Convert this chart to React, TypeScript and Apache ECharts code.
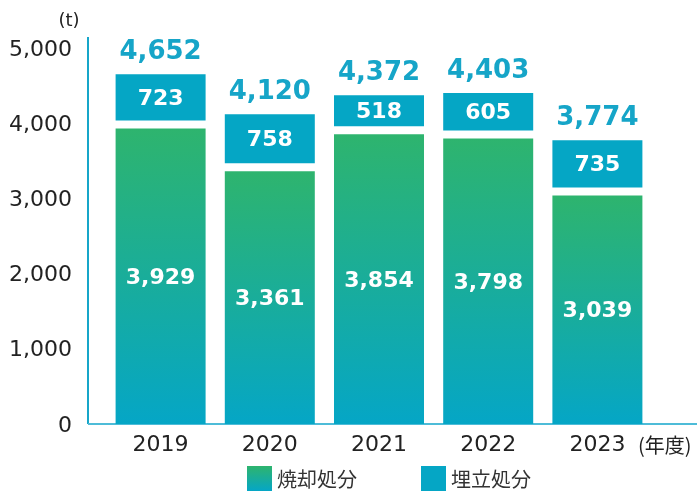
import React, { useEffect, useRef } from "react";
import * as echarts from "echarts";

const years = ["2019", "2020", "2021", "2022", "2023"];
const incinerated = [3929, 3361, 3854, 3798, 3039];
const landfilled = [723, 758, 518, 605, 735];
const totals = [4652, 4120, 4372, 4403, 3774];
const seriesNames = ["焼却処分", "埋立処分"];
const unitLabel = "(t)";
const yearUnit = "(年度)";

const BLUE = "#05a6c5";
const TOTAL_COLOR = "#16a5c8";
const NUM_FONT = '"DejaVu Sans", sans-serif';
const CJK_FONT = '"Noto Sans CJK JP", sans-serif';

const fmt = (v: number) => Number(v).toLocaleString("en-US");

export default function App() {
  const ref = useRef<HTMLDivElement>(null);
  useEffect(() => {
    if (!ref.current) return;
    const chart = echarts.init(ref.current, null, { renderer: "svg" });
    const greenGrad = new echarts.graphic.LinearGradient(0, 0, 0, 1, [
      { offset: 0, color: "#2eb46e" },
      { offset: 1, color: "#05a6c6" },
    ]);
    chart.setOption({
      animation: false,
      grid: { left: 106, right: 48, top: 48, bottom: 72 },
      xAxis: {
        type: "category",
        data: years,
        axisLine: { show: false },
        axisTick: { show: false },
        axisLabel: { fontSize: 22, color: "#222", fontFamily: NUM_FONT, margin: 8 },
      },
      yAxis: {
        type: "value",
        min: 0,
        max: 5000,
        interval: 1000,
        offset: 18,
        axisLine: { show: false },
        axisTick: { show: false },
        splitLine: { show: false },
        axisLabel: {
          fontSize: 22,
          color: "#222",
          fontFamily: NUM_FONT,
          margin: 16,
          padding: [16, 0, 0, 0],
          formatter: (v: number) => fmt(v),
        },
      },
      legend: {
        data: seriesNames,
        left: 242,
        top: 461,
        padding: 5,
        itemWidth: 25,
        itemHeight: 25,
        itemGap: 64,
        icon: "rect",
        textStyle: { fontSize: 20, color: "#333", fontFamily: CJK_FONT },
      },
      series: [
        {
          name: seriesNames[0],
          type: "bar",
          data: incinerated,
          barWidth: 90,
          itemStyle: { color: greenGrad },
          label: {
            show: true,
            position: "inside",
            color: "#fff",
            fontSize: 22,
            fontWeight: "bold",
            fontFamily: NUM_FONT,
            formatter: (p: any) => fmt(p.value),
          },
        },
        {
          name: seriesNames[1],
          type: "custom",
          itemStyle: { color: BLUE },
          data: years.map((_, i) => [i, incinerated[i], landfilled[i], totals[i]]),
          encode: { x: 0, y: 3 },
          renderItem: (params: any, api: any) => {
            const i = api.value(0);
            const g = api.value(1);
            const b = api.value(2);
            const t = api.value(3);
            const top = api.coord([i, t]);
            const bot = api.coord([i, g]);
            const w = 90;
            const gap = 8;
            const h = bot[1] - top[1] - gap;
            return {
              type: "group",
              children: [
                {
                  type: "rect",
                  shape: { x: top[0] - w / 2, y: top[1], width: w, height: h },
                  style: { fill: BLUE },
                },
                {
                  type: "text",
                  style: {
                    text: fmt(b),
                    x: top[0],
                    y: top[1] + h / 2,
                    align: "center",
                    verticalAlign: "middle",
                    fill: "#fff",
                    fontSize: 22,
                    fontWeight: "bold",
                    fontFamily: NUM_FONT,
                  },
                },
                {
                  type: "text",
                  style: {
                    text: fmt(t),
                    x: top[0],
                    y: top[1] - 24,
                    align: "center",
                    verticalAlign: "middle",
                    fill: TOTAL_COLOR,
                    fontSize: 26,
                    fontWeight: "bold",
                    fontFamily: NUM_FONT,
                  },
                },
              ],
            };
          },
        },
      ],
      graphic: [
        {
          type: "line",
          shape: { x1: 88, y1: 37, x2: 88, y2: 424 },
          style: { stroke: "#17a6c9", lineWidth: 2 },
        },
        {
          type: "line",
          shape: { x1: 88, y1: 424, x2: 697, y2: 424 },
          style: { stroke: "#4dbcd8", lineWidth: 2 },
        },
        {
          type: "text",
          x: 69,
          y: 19,
          style: {
            text: unitLabel,
            align: "center",
            verticalAlign: "middle",
            fontSize: 18,
            fill: "#222",
            fontFamily: NUM_FONT,
          },
        },
        {
          type: "text",
          x: 638,
          y: 444,
          style: {
            text: yearUnit,
            align: "left",
            verticalAlign: "middle",
            fontSize: 20,
            fill: "#222",
            fontFamily: CJK_FONT,
          },
        },
      ],
    });
    return () => chart.dispose();
  }, []);
  return (
    <div
      ref={ref}
      style={{ position: "fixed", left: 0, top: 0, width: 700, height: 496 }}
    />
  );
}
